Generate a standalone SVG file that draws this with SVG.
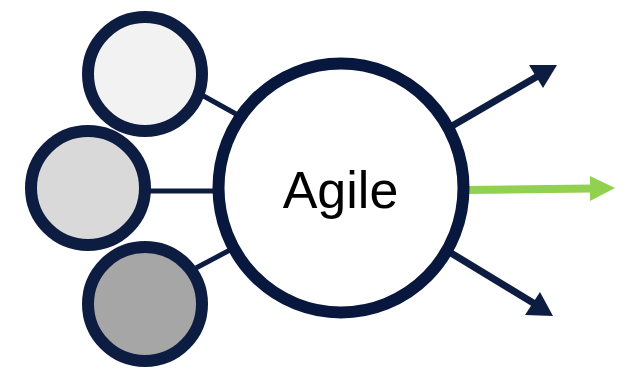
<svg xmlns="http://www.w3.org/2000/svg" width="625" height="371" viewBox="0 0 625 371">
  <style>
    .ring { stroke: #0d1d42; stroke-width: 12; }
    .link { stroke: #0d1d42; stroke-width: 5; fill: none; }
    .out { stroke: #0d1d42; stroke-width: 7; fill: none; }
    .head { fill: #0d1d42; }
    .label { font-family: "Liberation Sans", Arial, sans-serif; font-size: 52px; fill: #000; }
  </style>
  <rect width="625" height="371" fill="#ffffff"/>

  <!-- connectors -->
  <g id="connectors">
    <line class="link" x1="200" y1="94" x2="236" y2="114"/>
    <line class="link" x1="148" y1="191" x2="215" y2="191"/>
    <line class="link" x1="196" y1="268" x2="230" y2="250"/>
    <!-- outgoing arrows -->
    <line class="out" x1="452" y1="126" x2="538" y2="76"/>
    <polygon class="head" points="557,65 529,65 543,88"/>
    <line stroke="#92d050" stroke-width="8" x1="466" y1="190" x2="592" y2="188.5"/>
    <polygon fill="#92d050" points="615,188 590,176 590,201"/>
    <line class="out" x1="451" y1="253" x2="535" y2="304"/>
    <polygon class="head" points="553,316 525,315 540,292"/>
  </g>

  <g id="node-top">
    <circle class="ring" cx="145" cy="74" r="57" fill="#f2f2f2"/>
  </g>
  <g id="node-middle">
    <circle class="ring" cx="88" cy="188" r="57" fill="#d9d9d9"/>
  </g>
  <g id="node-bottom">
    <circle class="ring" cx="145" cy="304" r="57" fill="#a6a6a6"/>
  </g>

  <g id="node-agile">
    <ellipse class="ring" cx="341" cy="188" rx="122.5" ry="124.5" fill="#ffffff" style="stroke:#07173d"/>
    <text class="label" x="340.5" y="208" text-anchor="middle">Agile</text>
  </g>
</svg>
